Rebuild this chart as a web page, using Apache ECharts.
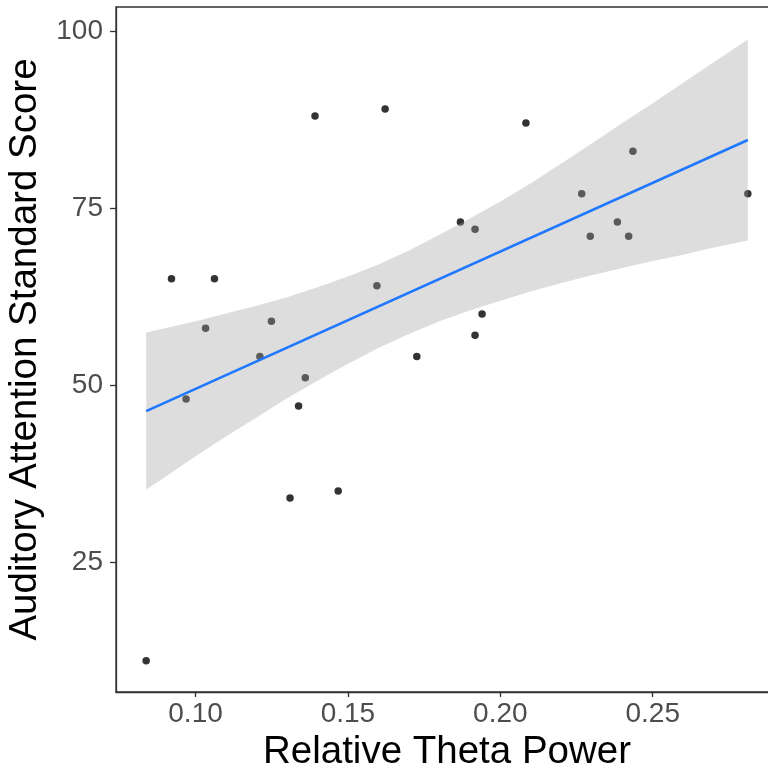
<!DOCTYPE html>
<html>
<head>
<meta charset="utf-8">
<script src="https://cdn.jsdelivr.net/npm/echarts@6/dist/echarts.min.js"></script>
<style>
html,body{margin:0;padding:0;background:#fff;}
#chart{width:768px;height:775px;}
</style>
</head>
<body>
<div id="chart"></div>
<script>
// Observed points
const thetaPower = [0.0921, 0.1062, 0.1392, 0.1622, 0.1033, 0.1249, 0.1595, 0.1211, 0.1360, 0.0969, 0.1338, 0.1310, 0.1468, 0.0838, 0.2084, 0.2435, 0.2267, 0.2812, 0.1869, 0.1917, 0.2384, 0.2295, 0.2421, 0.1940, 0.1917, 0.1726];
const attentionScore = [65, 65, 88, 89, 58, 59, 64, 54, 51, 48, 47, 34, 35, 11, 87, 83, 77, 77, 73, 72, 73, 71, 71, 60, 57, 54];

// Fitted line
const fitX = [0.0838, 0.2812];
const fitY = [46.3, 84.6];

// Confidence band
const bandX     = [0.0838, 0.09, 0.10, 0.11, 0.12, 0.13, 0.14, 0.15, 0.16, 0.17, 0.18, 0.19, 0.20, 0.21, 0.22, 0.23, 0.24, 0.25, 0.26, 0.27, 0.2812];
const bandUpper = [57.4, 58.0, 59.0, 60.1, 61.2, 62.4, 63.8, 65.3, 67.0, 69.0, 71.2, 73.5, 75.9, 78.5, 81.3, 84.1, 87.0, 89.8, 92.7, 95.6, 98.8];
const bandLower = [35.2, 37.0, 39.9, 42.7, 45.4, 48.1, 50.6, 53.0, 55.2, 57.2, 59.0, 60.5, 61.9, 63.2, 64.4, 65.5, 66.5, 67.5, 68.4, 69.4, 70.4];

// Tick labels
const xTicks = [0.10, 0.15, 0.20, 0.25];
const yTicks = [25, 50, 75, 100];

const xTitle = 'Relative Theta Power';
const yTitle = 'Auditory Attention Standard Score';

const FONT = "'Liberation Sans', Arial, sans-serif";
const chart = echarts.init(document.getElementById('chart'), null, {renderer: 'canvas'});

const scatterData = thetaPower.map((x, i) => [x, attentionScore[i]]);
const fitData = fitX.map((x, i) => [x, fitY[i]]);
const bandData = bandX.map((x, i) => [x, bandLower[i], bandUpper[i]]);

chart.setOption({
  animation: false,
  backgroundColor: '#ffffff',
  grid: {
    left: 116, top: 7, width: 662, height: 685,
    outerBoundsMode: 'none', containLabel: false,
    show: true, borderColor: '#333333', borderWidth: 1.3, backgroundColor: 'transparent'
  },
  xAxis: {
    type: 'value', min: 0.0739, max: 0.2911,
    name: xTitle, nameLocation: 'middle', nameGap: 40,
    nameTextStyle: {fontFamily: FONT, fontSize: 38.5, color: '#000'},
    axisLine: {show: true, lineStyle: {color: '#333333', width: 1.3}},
    axisTick: {show: true, length: 5, lineStyle: {color: '#333333', width: 1.3}, customValues: xTicks},
    axisLabel: {show: true, margin: 8, fontFamily: FONT, fontSize: 28, color: '#4D4D4D',
      customValues: xTicks, formatter: v => v.toFixed(2)},
    splitLine: {show: false}
  },
  yAxis: {
    type: 'value', min: 6.6, max: 103.4,
    name: yTitle, nameLocation: 'middle', nameGap: 66, nameRotate: 90,
    nameTextStyle: {fontFamily: FONT, fontSize: 38.5, color: '#000'},
    axisLine: {show: true, lineStyle: {color: '#333333', width: 1.3}},
    axisTick: {show: true, length: 6, lineStyle: {color: '#333333', width: 1.3}, customValues: yTicks},
    axisLabel: {show: true, margin: 13, fontFamily: FONT, fontSize: 28, color: '#4D4D4D',
      customValues: yTicks, formatter: v => String(v)},
    splitLine: {show: false}
  },
  series: [
    {
      type: 'scatter', data: scatterData, symbol: 'circle', symbolSize: 7.5,
      itemStyle: {color: '#000000'}, z: 2
    },
    {
      type: 'custom', data: bandData, z: 3, clip: true,
      renderItem: function (params, api) {
        if (params.dataIndex !== 0) return null;
        const pts = [];
        for (let i = 0; i < bandX.length; i++) pts.push(api.coord([bandX[i], bandUpper[i]]));
        for (let i = bandX.length - 1; i >= 0; i--) pts.push(api.coord([bandX[i], bandLower[i]]));
        return {
          type: 'polygon',
          shape: {points: pts},
          style: {fill: 'rgba(160,160,160,0.36)', stroke: null}
        };
      }
    },
    {
      type: 'line', data: fitData, showSymbol: false, symbol: 'none', z: 4,
      lineStyle: {color: '#1F78FF', width: 2.6}
    }
  ]
});
</script>
</body>
</html>
